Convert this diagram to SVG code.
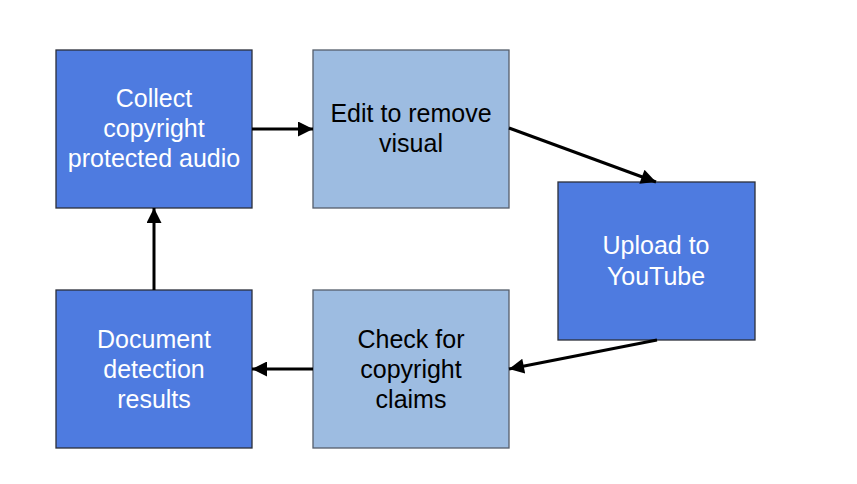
<svg xmlns="http://www.w3.org/2000/svg" width="857" height="484" viewBox="0 0 857 484">
<style>
.dark{fill:#4e7be0;stroke:#2b2f3a;stroke-width:1.3}
.light{fill:#9dbce1;stroke:#555d6a;stroke-width:1.3}
text{font-family:"Liberation Sans",Arial,sans-serif;font-size:25px;text-anchor:middle}
.w{fill:#ffffff}
.k{fill:#000000}
.c{stroke:#000;stroke-width:3;fill:none;marker-end:url(#ah)}
</style>
<defs>
<marker id="ah" viewBox="0 0 10 10" refX="10" refY="5" markerWidth="6" markerHeight="5" markerUnits="strokeWidth" orient="auto">
<path d="M0,0 L10,5 L0,10 z" fill="#000"/>
</marker>
</defs>
<rect width="857" height="484" fill="#fff"/>
<g id="collect">
<rect class="dark" x="56" y="50" width="196" height="158"/>
<text class="w" x="154" y="107">Collect</text>
<text class="w" x="154" y="137">copyright</text>
<text class="w" x="154" y="167">protected audio</text>
</g>
<g id="edit">
<rect class="light" x="313" y="50" width="196" height="158"/>
<text class="k" x="411" y="122">Edit to remove</text>
<text class="k" x="411" y="152">visual</text>
</g>
<g id="upload">
<rect class="dark" x="558" y="182" width="197" height="158"/>
<text class="w" x="656" y="254">Upload to</text>
<text class="w" x="656" y="285">YouTube</text>
</g>
<g id="check">
<rect class="light" x="313" y="290" width="196" height="158"/>
<text class="k" x="411" y="348">Check for</text>
<text class="k" x="411" y="378">copyright</text>
<text class="k" x="411" y="408">claims</text>
</g>
<g id="document">
<rect class="dark" x="56" y="290" width="196" height="158"/>
<text class="w" x="154" y="348">Document</text>
<text class="w" x="154" y="378">detection</text>
<text class="w" x="154" y="408">results</text>
</g>
<g id="connectors">
<line class="c" x1="252" y1="129" x2="313" y2="129"/>
<line class="c" x1="509" y1="128" x2="656" y2="182"/>
<line class="c" x1="657" y1="340" x2="509" y2="369"/>
<line class="c" x1="313" y1="369" x2="252" y2="369"/>
<line class="c" x1="154" y1="290" x2="154" y2="208"/>
</g>
</svg>
